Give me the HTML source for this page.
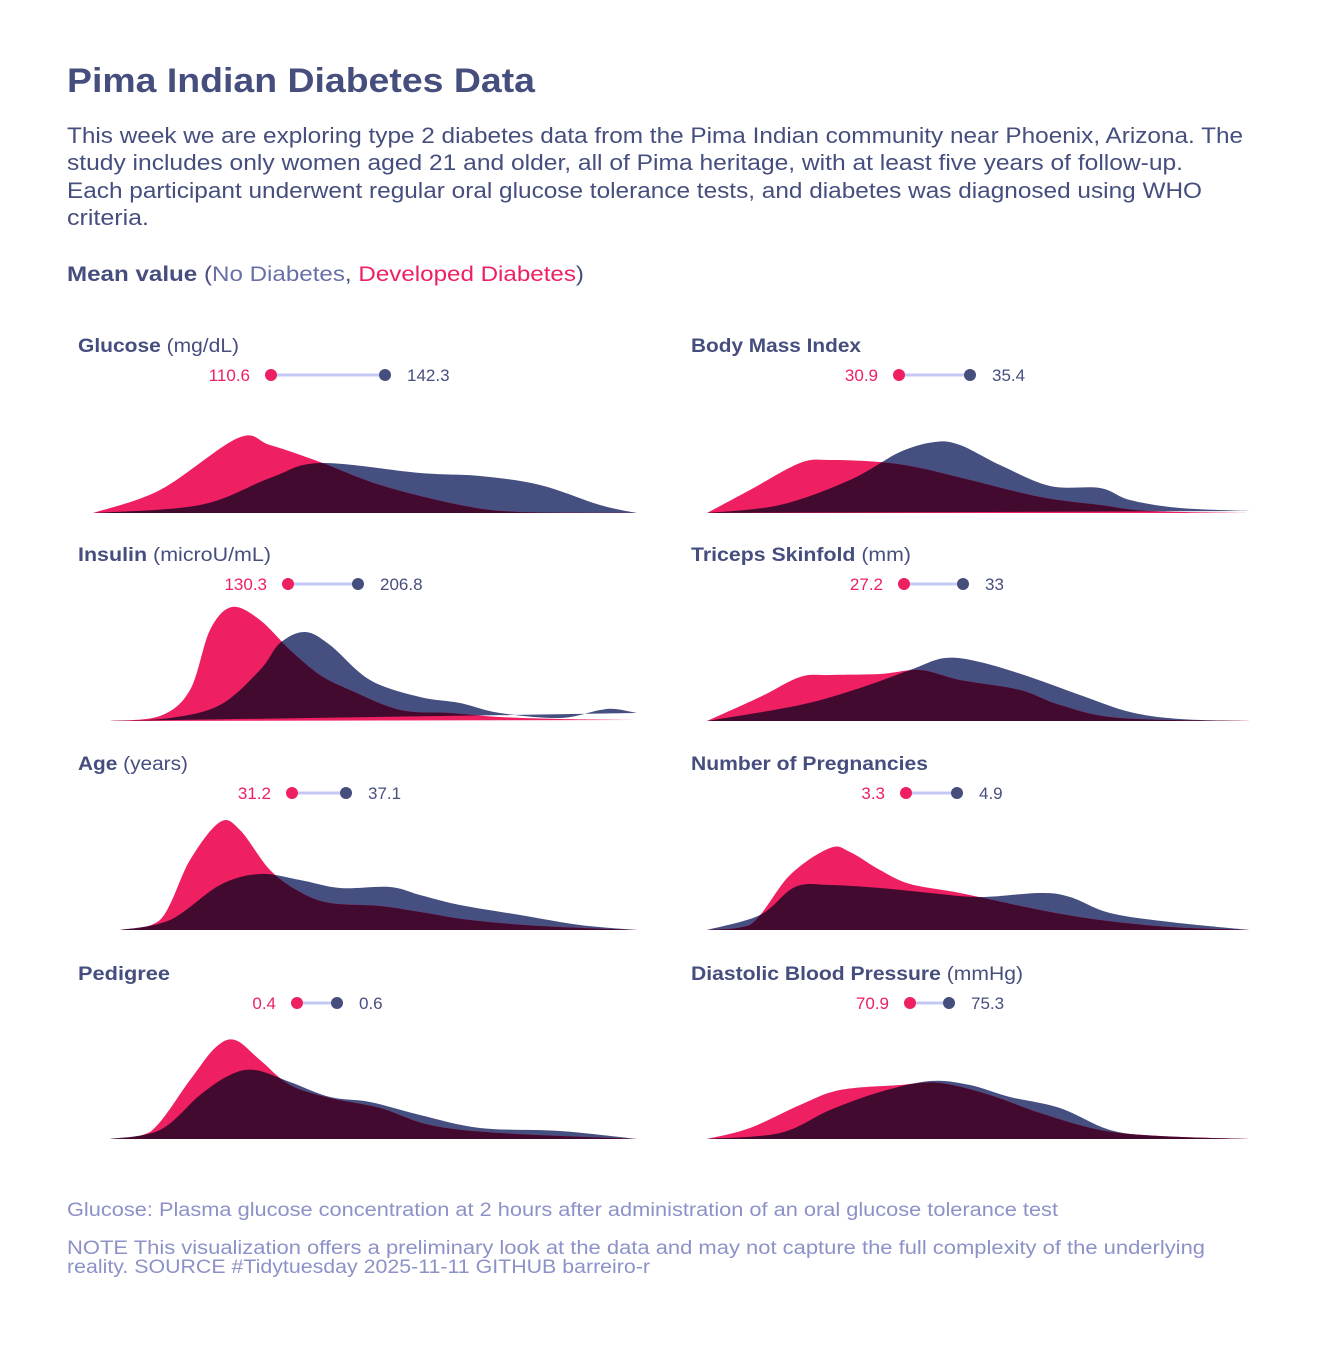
<!DOCTYPE html>
<html><head><meta charset="utf-8"><style>
body{margin:0;background:#fff;}
svg text{font-family:"Liberation Sans",sans-serif;}
</style></head><body>
<svg id="s" width="1344" height="1344" xmlns="http://www.w3.org/2000/svg">
<rect width="1344" height="1344" fill="#fff"/>
<text x="67" y="92" font-size="34" font-weight="bold" fill="#464E7E" textLength="468" lengthAdjust="spacingAndGlyphs">Pima Indian Diabetes Data</text>
<g font-size="22" fill="#464E7E">
<text x="67" y="143" textLength="1176" lengthAdjust="spacingAndGlyphs">This week we are exploring type 2 diabetes data from the Pima Indian community near Phoenix, Arizona. The</text>
<text x="67" y="170" textLength="1116" lengthAdjust="spacingAndGlyphs">study includes only women aged 21 and older, all of Pima heritage, with at least five years of follow-up.</text>
<text x="67" y="198" textLength="1135" lengthAdjust="spacingAndGlyphs">Each participant underwent regular oral glucose tolerance tests, and diabetes was diagnosed using WHO</text>
<text x="67" y="225" textLength="82" lengthAdjust="spacingAndGlyphs">criteria.</text>
</g>
<text x="67" y="281" font-size="21" fill="#464E7E" textLength="517" lengthAdjust="spacingAndGlyphs"><tspan font-weight="bold">Mean value</tspan> (<tspan fill="#6870A8">No Diabetes</tspan>, <tspan fill="#EE2062">Developed Diabetes</tspan>)</text>
<g font-size="19" fill="#8C92C8">
<text x="67" y="1216" textLength="991" lengthAdjust="spacingAndGlyphs">Glucose: Plasma glucose concentration at 2 hours after administration of an oral glucose tolerance test</text>
<text x="67" y="1254" textLength="1138" lengthAdjust="spacingAndGlyphs">NOTE This visualization offers a preliminary look at the data and may not capture the full complexity of the underlying</text>
<text x="67" y="1273" textLength="583" lengthAdjust="spacingAndGlyphs">reality. SOURCE #Tidytuesday 2025-11-11 GITHUB barreiro-r</text>
</g>
<g id="panels"></g>
</svg>
<script>
const P=[
{t:"Glucose",u:" (mg/dL)",x:78,y:352,w:161,pd:271,nd:385,pv:"110.6",nv:"142.3",
 p:[[93,513],[160,490],[238,438],[270,445],[320,462],[380,485],[460,505],[520,512],[637,513]],
 n:[[93,513],[200,505],[270,478],[320,463],[420,473],[480,476],[540,485],[600,505],[637,513]]},
{t:"Body Mass Index",u:"",x:691,y:352,w:170,pd:899,nd:970,pv:"30.9",nv:"35.4",
 p:[[707,513],[750,490],[800,463],[830,460],[880,462],[920,468],[970,480],[1040,497],[1100,505],[1150,511],[1250,513]],
 n:[[707,513],[780,505],[850,480],[900,452],[935,442],[960,445],[1000,465],[1050,486],[1100,488],[1130,500],[1180,508],[1250,511]]},
{t:"Insulin",u:" (microU/mL)",x:78,y:561,w:193,pd:288,nd:358,pv:"130.3",nv:"206.8",
 p:[[110,721],[160,716],[190,690],[210,630],[232,607],[260,620],[290,650],[320,675],[350,690],[400,710],[450,713],[500,717],[560,719],[637,720]],
 n:[[110,721],[170,718],[220,705],[260,670],[280,643],[305,632],[330,645],[370,680],[420,697],[460,703],[500,713],[560,718],[600,710],[615,709],[637,713]]},
{t:"Triceps Skinfold",u:" (mm)",x:691,y:561,w:220,pd:904,nd:963,pv:"27.2",nv:"33",
 p:[[707,721],[760,697],[800,677],[830,675],[880,674],[920,670],[960,680],[1020,690],[1060,705],[1120,718],[1250,721]],
 n:[[707,721],[800,705],[860,688],[910,670],[945,658],[980,662],[1030,677],[1080,695],[1130,712],[1180,719],[1250,721]]},
{t:"Age",u:" (years)",x:78,y:770,w:110,pd:292,nd:346,pv:"31.2",nv:"37.1",
 p:[[120,930],[160,920],[190,860],[220,822],[240,830],[270,870],[300,892],[330,903],[380,906],[420,912],[470,920],[540,926],[637,930]],
 n:[[120,930],[170,920],[220,885],[260,874],[300,880],[340,888],[390,887],[420,895],[460,905],[520,915],[580,925],[637,930]]},
{t:"Number of Pregnancies",u:"",x:691,y:770,w:237,pd:906,nd:957,pv:"3.3",nv:"4.9",
 p:[[707,930],[750,925],[790,875],[830,848],[850,852],[880,870],[910,884],[960,893],[1040,910],[1100,920],[1170,927],[1250,930]],
 n:[[707,930],[760,915],[795,887],[830,885],[880,888],[930,893],[980,897],[1040,893],[1070,897],[1110,913],[1170,922],[1250,930]]},
{t:"Pedigree",u:"",x:78,y:980,w:92,pd:297,nd:337,pv:"0.4",nv:"0.6",
 p:[[110,1139],[150,1132],[190,1080],[215,1048],[235,1040],[260,1060],[290,1085],[330,1098],[380,1108],[430,1125],[500,1133],[637,1139]],
 n:[[110,1139],[160,1130],[200,1095],[230,1075],[255,1070],[290,1082],[330,1097],[370,1102],[420,1115],[480,1128],[560,1131],[637,1139]]},
{t:"Diastolic Blood Pressure",u:" (mmHg)",x:691,y:980,w:332,pd:910,nd:949,pv:"70.9",nv:"75.3",
 p:[[707,1139],[750,1128],[800,1105],[840,1090],[900,1085],[940,1083],[990,1095],[1040,1113],[1100,1130],[1160,1136],[1250,1139]],
 n:[[707,1139],[780,1133],[830,1110],[880,1092],[930,1081],[970,1085],[1010,1097],[1060,1108],[1110,1130],[1160,1136],[1250,1139]]}
];
function cr(pts){const B=Math.max(...pts.map(p=>p[1]));let d="M"+pts[0][0]+","+pts[0][1];
for(let i=0;i<pts.length-1;i++){const p0=pts[i-1]||pts[i],p1=pts[i],p2=pts[i+1],p3=pts[i+2]||p2;
const c1=[p1[0]+(p2[0]-p0[0])/6,Math.min(B,p1[1]+(p2[1]-p0[1])/6)],c2=[p2[0]-(p3[0]-p1[0])/6,Math.min(B,p2[1]-(p3[1]-p1[1])/6)];
d+=`C${c1[0].toFixed(1)},${c1[1].toFixed(1)} ${c2[0].toFixed(1)},${c2[1].toFixed(1)} ${p2[0]},${p2[1]}`;}
return d+"Z";}
let h="";
P.forEach((q,i)=>{const pp=cr(q.p),nn=cr(q.n),dy=q.y+23;
h+=`<text x="${q.x}" y="${q.y}" font-size="19" fill="#464E7E" textLength="${q.w}" lengthAdjust="spacingAndGlyphs"><tspan font-weight="bold">${q.t}</tspan>${q.u}</text>`;
h+=`<line x1="${q.pd}" y1="${dy}" x2="${q.nd}" y2="${dy}" stroke="#C4C8F4" stroke-width="3"/>`;
h+=`<circle cx="${q.pd}" cy="${dy}" r="6" fill="#EE2062"/><circle cx="${q.nd}" cy="${dy}" r="6" fill="#464E7E"/>`;
h+=`<text x="${q.pd-21}" y="${dy+6}" font-size="17" fill="#EE2062" text-anchor="end">${q.pv}</text>`;
h+=`<text x="${q.nd+22}" y="${dy+6}" font-size="17" fill="#464E7E">${q.nv}</text>`;
h+=`<clipPath id="c${i}"><path d="${pp}"/></clipPath>`;
h+=`<path d="${nn}" fill="#465080"/><path d="${pp}" fill="#EE2062"/><path d="${nn}" fill="#430A30" clip-path="url(#c${i})"/>`;
});
document.getElementById("panels").innerHTML=h;
</script>
</body></html>
